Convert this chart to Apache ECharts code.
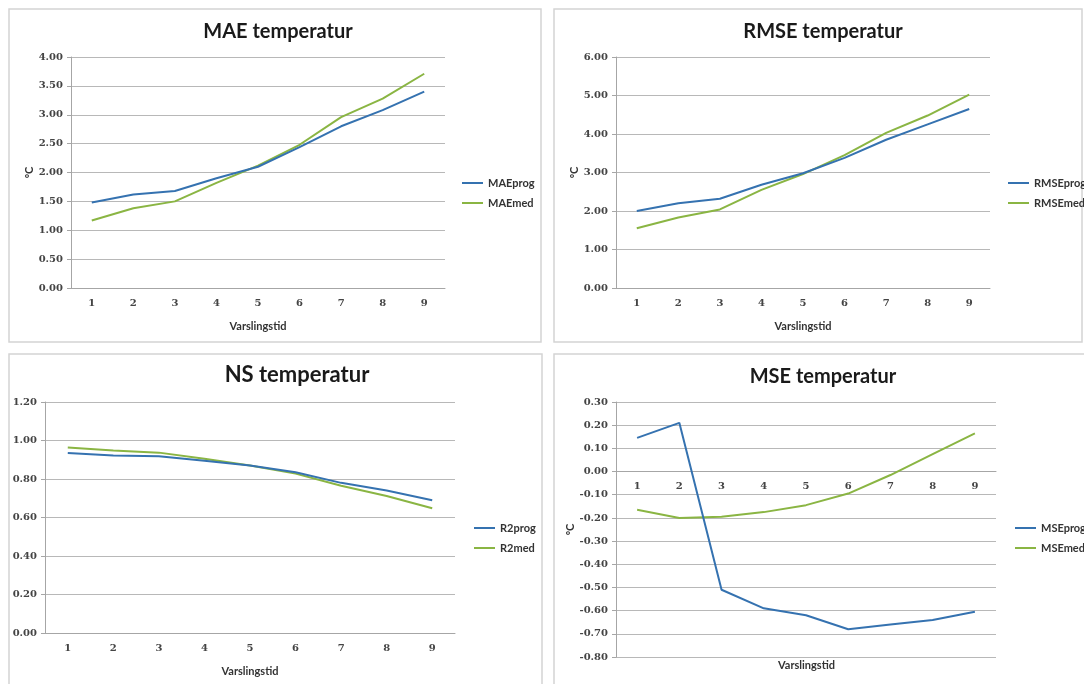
<!DOCTYPE html>
<html><head><meta charset="utf-8">
<script src="https://cdn.jsdelivr.net/npm/echarts@6/dist/echarts.min.js"></script>
<style>html,body{margin:0;padding:0;background:#fff}#c{width:1084px;height:684px}</style>
</head><body><div id="c"></div>
<script>
const categories = ['1','2','3','4','5','6','7','8','9'];
const maeProg = [1.48, 1.62, 1.68, 1.90, 2.10, 2.44, 2.80, 3.08, 3.40];
const maeMed  = [1.17, 1.38, 1.50, 1.82, 2.12, 2.48, 2.96, 3.28, 3.71];
const rmseProg = [2.00, 2.20, 2.32, 2.68, 2.98, 3.38, 3.85, 4.25, 4.65];
const rmseMed  = [1.55, 1.83, 2.04, 2.55, 2.96, 3.45, 4.03, 4.48, 5.02];
const r2Prog = [0.935, 0.922, 0.918, 0.895, 0.870, 0.835, 0.780, 0.740, 0.690];
const r2Med  = [0.963, 0.948, 0.937, 0.905, 0.870, 0.828, 0.765, 0.712, 0.648];
const mseProg = [0.145, 0.210, -0.510, -0.590, -0.620, -0.680, -0.660, -0.640, -0.605];
const mseMed  = [-0.165, -0.200, -0.195, -0.175, -0.145, -0.095, -0.015, 0.075, 0.165];
const titles = ['MAE temperatur', 'RMSE temperatur', 'NS temperatur', 'MSE temperatur'];
const seriesNames = [['MAEprog','MAEmed'],['RMSEprog','RMSEmed'],['R2prog','R2med'],['MSEprog','MSEmed']];
const xName = 'Varslingstid';
const yName = 'ºC';

const BLUE = '#3572b0', GREEN = '#8ab543';
const panels = [
  {grid:{left:71,top:57,width:374,height:231}, min:0, max:4, interval:0.5, data:[maeProg,maeMed], tx:278, ty:32, fs:20, lx:462, ly:177, yname:true, box:[9,9,532,333]},
  {grid:{left:616,top:57,width:374,height:231}, min:0, max:6, interval:1, data:[rmseProg,rmseMed], tx:823, ty:32, fs:20, lx:1008, ly:177, yname:true, box:[554,9,528,333]},
  {grid:{left:45,top:402,width:410,height:231}, min:0, max:1.2, interval:0.2, data:[r2Prog,r2Med], tx:297, ty:375, fs:22, lx:474, ly:522, yname:false, box:[9,354,533,340]},
  {grid:{left:616,top:402,width:380,height:255}, min:-0.8, max:0.3, interval:0.1, data:[mseProg,mseMed], tx:823, ty:377, fs:20, lx:1015, ly:522, yname:true, box:[554,354,540,340], zeroAxis:true}
];

const lblFont = {fontFamily:'DejaVu Serif', fontWeight:'bold', fontSize:10, color:'#444'};
const nameFont = {fontFamily:'Lato', fontWeight:'bold', fontSize:11, color:'#333'};
const option = {backgroundColor:'#fff', animation:false, title:[], legend:[], grid:[], xAxis:[], yAxis:[], series:[], graphic:[]};

panels.forEach((p, i) => {
  option.graphic.push({type:'rect', shape:{x:p.box[0], y:p.box[1], width:p.box[2], height:p.box[3]}, style:{fill:'#fff', stroke:'#d4d4d4', lineWidth:1.5}, z:-10});
  option.title.push({text:titles[i], left:p.tx, top:p.ty - p.fs/2, textAlign:'center', padding:0,
    textStyle:{fontFamily:'Lato', fontWeight:'bold', fontSize:p.fs, lineHeight:p.fs, color:'#1a1a1a'}});
  option.legend.push({data:seriesNames[i], orient:'vertical', left:p.lx, top:p.ly, icon:'rect', itemWidth:21, itemHeight:2, itemGap:8,
    padding:0, textStyle:{fontFamily:'Lato', fontWeight:'bold', fontSize:11, lineHeight:12, color:'#333'}});
  option.grid.push(p.grid);
  // axis crossing at zero (category axis sits on the value 0 line)
  const zeroOffset = p.zeroAxis ? -p.grid.height * (0 - p.min) / (p.max - p.min) : 0;
  option.xAxis.push({type:'category', gridIndex:i, data:categories, boundaryGap:true, position:'bottom', offset:zeroOffset,
    axisLine:{show:true, onZero:false, lineStyle:{color:'#a6a6a6', width:1}},
    axisTick:{show:false}, axisLabel:Object.assign({margin:10}, lblFont),
    name: p.zeroAxis ? '' : xName, nameLocation:'middle', nameGap:33, nameTextStyle:nameFont});
  if (p.zeroAxis) {
    option.graphic.push({type:'text', left:p.grid.left + p.grid.width/2 - 28, top:p.grid.top + p.grid.height + 3,
      style:{text:xName, font:'bold 11px Lato', fill:'#333'}});
  }
  option.yAxis.push({type:'value', gridIndex:i, min:p.min, max:p.max, interval:p.interval,
    axisLine:{show:true, onZero:false, lineStyle:{color:'#a6a6a6'}}, axisTick:{show:true, length:4, lineStyle:{color:'#a6a6a6'}},
    splitLine:{show:true, lineStyle:{color:'#b8b8b8', width:1}},
    axisLabel:Object.assign({margin:8, formatter:v => v.toFixed(2)}, lblFont),
    name: p.yname ? yName : '', nameLocation:'middle', nameGap:33, nameRotate:90, nameTextStyle:nameFont});
  p.data.forEach((d, k) => {
    option.series.push({type:'line', name:seriesNames[i][k], xAxisIndex:i, yAxisIndex:i, data:d,
      symbol:'none', lineStyle:{width:2, color:k===0?BLUE:GREEN}, itemStyle:{color:k===0?BLUE:GREEN}, z:k===0?3:2});
  });
});

const chart = echarts.init(document.getElementById('c'), null, {renderer:'canvas'});
chart.setOption(option);
</script></body></html>
